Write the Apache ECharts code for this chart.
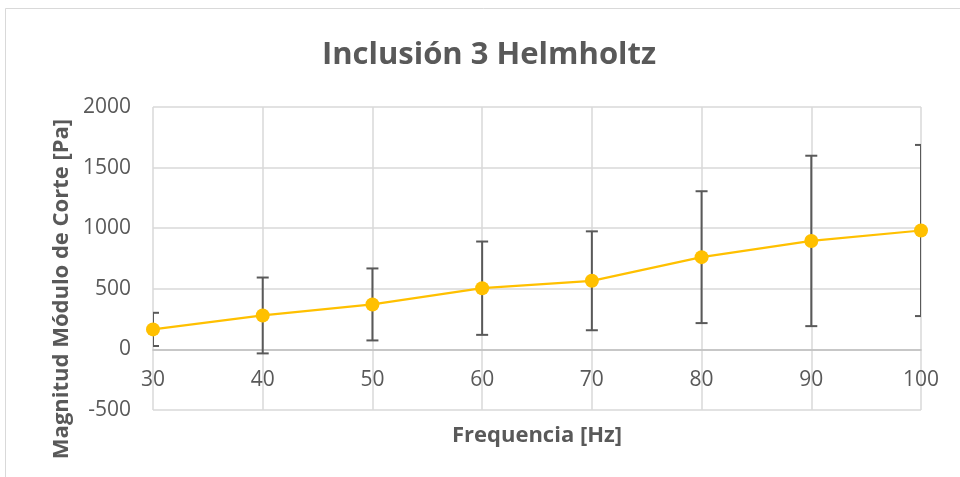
<!DOCTYPE html>
<html>
<head>
<meta charset="utf-8">
<script src="https://cdn.jsdelivr.net/npm/echarts@6/dist/echarts.min.js"></script>
<style>
html,body{margin:0;padding:0;background:#fff;}
#chart{width:960px;height:477px;}
</style>
</head>
<body>
<div id="chart"></div>
<script>
var frequencies = [30, 40, 50, 60, 70, 80, 90, 100];
var magnitudes = [165, 280, 371, 505, 566, 761, 895, 981];
var errors = [137, 313, 297, 385, 408, 544, 703, 706];
var yTicks = [-500, 0, 500, 1000, 1500, 2000];
var xTicks = [30, 40, 50, 60, 70, 80, 90, 100];

var FONT = '"Open Sans"';
var GREY = '#595959';
var GRID = {left: 153, right: 39, top: 107, bottom: 67};

var lineData = frequencies.map(function (f, i) { return [f, magnitudes[i]]; });
var errData = frequencies.map(function (f, i) { return [f, magnitudes[i], errors[i]]; });

// distance of the zero line above the plot bottom, so the x axis can sit on it
var plotH = 477 - GRID.top - GRID.bottom;
var yMin = yTicks[0], yMax = yTicks[yTicks.length - 1];
var zeroOffset = plotH * (0 - yMin) / (yMax - yMin);

var chart = echarts.init(document.getElementById('chart'), null, {renderer: 'canvas'});
chart.setOption({
  animation: false,
  backgroundColor: '#fff',
  graphic: [
    {type: 'rect', shape: {x: 5.5, y: 8.5, width: 1000, height: 500}, style: {fill: 'none', stroke: '#d9d9d9', lineWidth: 1}, silent: true},
    {type: 'text', x: 489, y: 55,
     style: {text: 'Inclusión 3 Helmholtz', fontFamily: FONT, fontSize: 31, fontWeight: 'bold', fill: GREY, textAlign: 'center', textVerticalAlign: 'middle'}},
    {type: 'text', x: 62, y: 289, rotation: Math.PI / 2,
     style: {text: 'Magnitud Módulo de Corte [Pa]', fontFamily: FONT, fontSize: 22, fontWeight: 'bold', fill: GREY, textAlign: 'center', textVerticalAlign: 'middle'}},
    {type: 'text', x: 537, y: 436,
     style: {text: 'Frequencia [Hz]', fontFamily: FONT, fontSize: 22, fontWeight: 'bold', fill: GREY, textAlign: 'center', textVerticalAlign: 'middle'}}
  ],
  grid: {left: GRID.left, right: GRID.right, top: GRID.top, bottom: GRID.bottom, containLabel: false, outerBoundsMode: 'none'},
  xAxis: {
    type: 'value', min: xTicks[0], max: xTicks[xTicks.length - 1], interval: 10,
    position: 'bottom', offset: -zeroOffset,
    axisLine: {show: true, onZero: false, lineStyle: {color: '#bfbfbf', width: 1.5}},
    axisTick: {show: false},
    axisLabel: {fontFamily: FONT, fontSize: 21, color: GREY, margin: 20},
    splitLine: {show: true, lineStyle: {color: '#d9d9d9', width: 1.5}}
  },
  yAxis: {
    type: 'value', min: yMin, max: yMax, interval: 500,
    axisLine: {show: false},
    axisTick: {show: false},
    axisLabel: {fontFamily: FONT, fontSize: 21, color: GREY, margin: 22, formatter: function (v) { return String(v); }},
    splitLine: {show: true, lineStyle: {color: '#d9d9d9', width: 1.5}}
  },
  series: [
    {
      type: 'custom', z: 1, clip: true,
      data: errData,
      encode: {x: 0, y: 1},
      renderItem: function (params, api) {
        var x = api.value(0), y = api.value(1), e = api.value(2);
        var top = api.coord([x, y + e]);
        var bot = api.coord([x, y - e]);
        var hw = 6;
        var st = {stroke: GREY, lineWidth: 2, fill: 'none'};
        return {
          type: 'group',
          children: [
            {type: 'line', shape: {x1: top[0], y1: top[1], x2: bot[0], y2: bot[1]}, style: st},
            {type: 'line', shape: {x1: top[0] - hw, y1: top[1], x2: top[0] + hw, y2: top[1]}, style: st},
            {type: 'line', shape: {x1: bot[0] - hw, y1: bot[1], x2: bot[0] + hw, y2: bot[1]}, style: st}
          ]
        };
      }
    },
    {
      type: 'line', z: 2,
      data: lineData,
      symbol: 'circle', symbolSize: 14,
      lineStyle: {color: '#FFC000', width: 2.25},
      itemStyle: {color: '#FFC000'}
    }
  ]
});
</script>
</body>
</html>
